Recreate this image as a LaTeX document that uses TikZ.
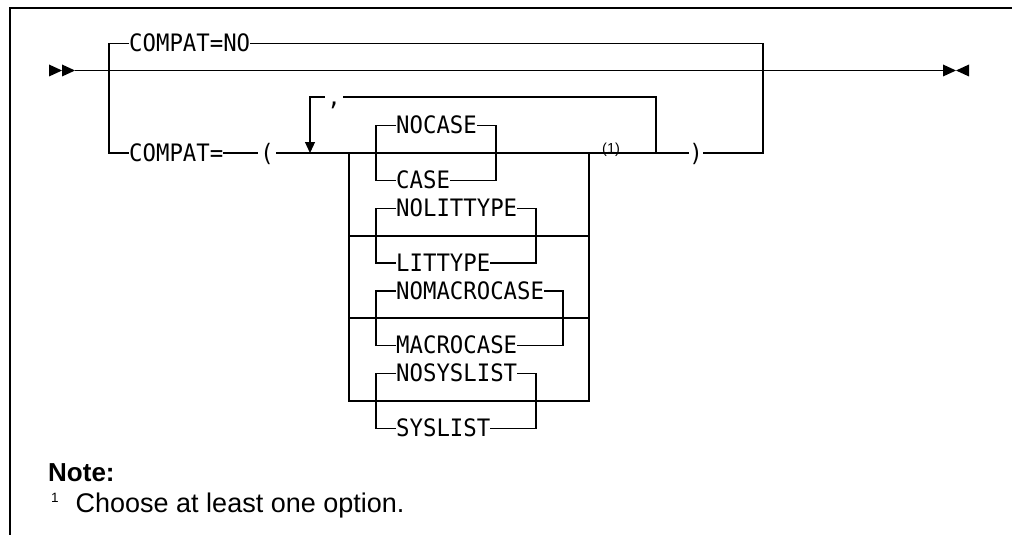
\documentclass[tikz,border=0pt]{standalone}
\usepackage{fontspec}
\setmainfont{Liberation Sans}
\newfontfamily\rrfont[FakeStretch=0.93]{DejaVu Sans Mono}
\usetikzlibrary{arrows.meta}
\begin{document}
\begin{tikzpicture}[x=1pt,y=-1pt,
  rail/.style={line width=1.2pt},
  frame/.style={line width=1.2pt},
  kw/.style={font=\rrfont\fontsize{24}{24}\selectfont, inner sep=0pt,
    text height=21.6pt, text depth=5pt, anchor=west},
  punct/.style={kw, anchor=center, minimum width=#1},
  tipfill/.style={fill=black}]
\useasboundingbox (0,0) rectangle (1012,535);
% frame
\coordinate (fbl) at (10,535);
\coordinate (ftl) at (10,8);
\coordinate (ftr) at (1012,8);
\draw[frame] (fbl) -- (ftl) -- (ftr);
% start / end marks and main line
\coordinate (start) at (75,70.5);
\coordinate (stop) at (943,70.5);
\fill[tipfill] (49,64.5) -- (62,70.5) -- (49,76.5) -- cycle;
\fill[tipfill] (62,64.5) -- (start) -- (62,76.5) -- cycle;
\fill[tipfill] (943,64.5) -- (956,70.5) -- (943,76.5) -- cycle;
\fill[tipfill] (969,64.5) -- (956,70.5) -- (969,76.5) -- cycle;
\draw[rail] (start) -- (stop);
% outer branch
\coordinate (lt) at (109,43.5);
\coordinate (lb) at (109,153);
\coordinate (rt) at (763,43.5);
\coordinate (rb) at (763,153);
\node[kw] (nocompat) at (129,43.5) {COMPAT=NO};
\node[kw] (compat) at (129,153) {COMPAT=};
\node[punct=18pt] (lparen) at (267,153) {(};
\node[punct=14pt] (rparen) at (696,153) {)};
\draw[rail] (nocompat.west) -- (lt) -- (lb) -- (compat.west);
\draw[rail] (nocompat.east) -- (rt) -- (rb) -- (rparen.east);
\draw[rail] (compat.east) -- (lparen.west);
\draw[rail] (lparen.east) -- (rparen.west);
% repeat loop
\coordinate (loopL) at (310,97);
\coordinate (loopLb) at (310,153);
\coordinate (loopR) at (656,97);
\coordinate (loopRb) at (656,153);
\node[punct=18pt] (comma) at (334,97) {,};
\draw[rail] (loopRb) -- (loopR) -- (comma.east);
\draw[rail,-{Triangle[width=10pt,length=11pt]}] (comma.west) -- (loopL) -- (loopLb);
% stack
\coordinate (sL1) at (349,153);
\coordinate (sL2) at (349,236);
\coordinate (sL3) at (349,318);
\coordinate (sL4) at (349,401);
\coordinate (sR1) at (589,153);
\coordinate (sR2) at (589,236);
\coordinate (sR3) at (589,318);
\coordinate (sR4) at (589,401);
\draw[rail] (sL1) -- (sL4) -- (sR4) -- (sR1);
\draw[rail] (sL2) -- (sR2);
\draw[rail] (sL3) -- (sR3);
% group 1
\node[kw] (nocase) at (396,125.5) {NOCASE};
\node[kw] (case) at (396,180.5) {CASE};
\coordinate (g1L) at (376,153);
\coordinate (g1R) at (496,153);
\draw[rail] (nocase.west) -| (g1L) |- (case.west);
\draw[rail] (nocase.east) -| (g1R) |- (case.east);
% group 2
\node[kw] (nolit) at (396,208.5) {NOLITTYPE};
\node[kw] (lit) at (396,263) {LITTYPE};
\coordinate (g2L) at (376,236);
\coordinate (g2R) at (536,236);
\draw[rail] (nolit.west) -| (g2L) |- (lit.west);
\draw[rail] (nolit.east) -| (g2R) |- (lit.east);
% group 3
\node[kw] (nomac) at (396,291) {NOMACROCASE};
\node[kw] (mac) at (396,345.5) {MACROCASE};
\coordinate (g3L) at (376,318);
\coordinate (g3R) at (563,318);
\draw[rail] (nomac.west) -| (g3L) |- (mac.west);
\draw[rail] (nomac.east) -| (g3R) |- (mac.east);
% group 4
\node[kw] (nosys) at (396,373.5) {NOSYSLIST};
\node[kw] (sys) at (396,428.5) {SYSLIST};
\coordinate (g4L) at (376,401);
\coordinate (g4R) at (536,401);
\draw[rail] (nosys.west) -| (g4L) |- (sys.west);
\draw[rail] (nosys.east) -| (g4R) |- (sys.east);
% footnote reference
\node[font=\fontsize{14.5}{14.5}\selectfont, inner sep=0pt, anchor=base west] (fnref) at (602,153) {(1)};
% note
\node[font=\bfseries\fontsize{26}{26}\selectfont, inner sep=0pt, anchor=base west] (note) at (48,481) {Note:};
\node[font=\fontsize{13.5}{13.5}\selectfont, inner sep=0pt, anchor=base west] (fnmark) at (51,502) {1};
\node[font=\fontsize{27}{27}\selectfont, inner sep=0pt, anchor=base west] (choose) at (75.5,512) {Choose at least one option.};
\end{tikzpicture}
\end{document}
